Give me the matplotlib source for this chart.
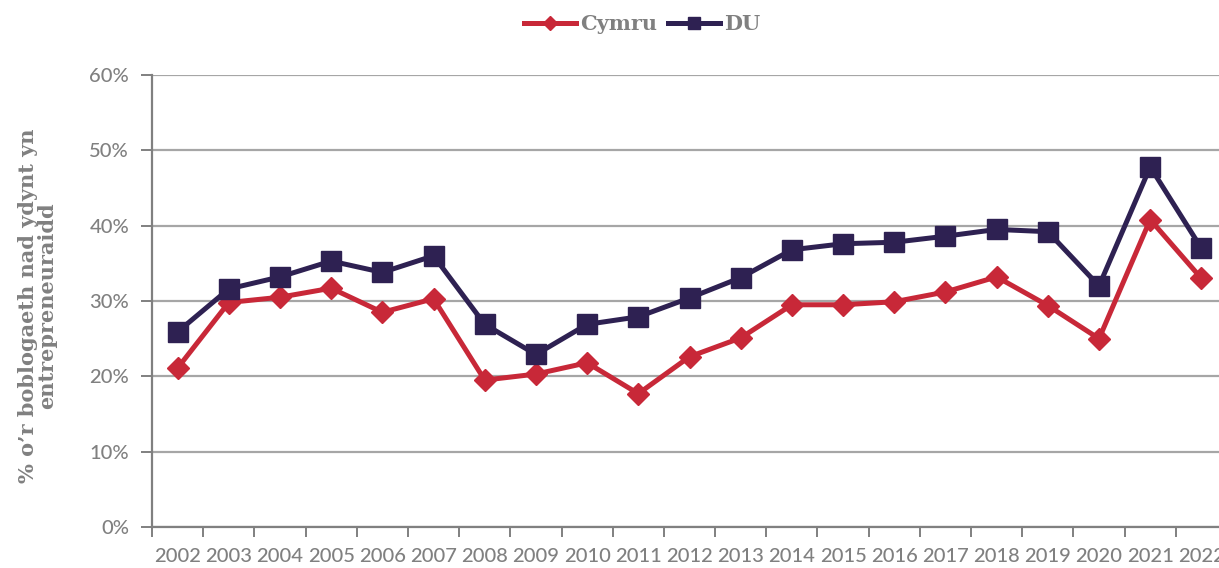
import numpy as np
import matplotlib.pyplot as plt
from matplotlib.lines import Line2D

# data (% of population)
years = ['2002', '2003', '2004', '2005', '2006', '2007', '2008', '2009', '2010', '2011',
         '2012', '2013', '2014', '2015', '2016', '2017', '2018', '2019', '2020', '2021', '2022']
cymru = [21.1, 29.8, 30.5, 31.7, 28.5, 30.3, 19.5, 20.3, 21.8, 17.7,
         22.6, 25.1, 29.5, 29.5, 29.9, 31.2, 33.2, 29.4, 25.0, 40.8, 33.0]
du = [25.9, 31.6, 33.2, 35.3, 33.8, 36.0, 26.9, 22.9, 26.9, 27.9,
      30.4, 33.1, 36.8, 37.6, 37.8, 38.6, 39.5, 39.2, 32.0, 47.8, 37.0]
y_ticks = [0, 10, 20, 30, 40, 50, 60]

red = '#C82838'
navy = '#2E2152'
grey = '#808080'

fig = plt.figure(figsize=(12.19, 5.68), dpi=100)
# axis runs past the right edge, as in the cropped original
ax = fig.add_axes([152 / 1219, 41 / 568, 1075 / 1219, 452 / 568])

x = np.arange(len(years))
ax.plot(x, cymru, color=red, lw=3.6, marker='D', ms=11, zorder=3)
ax.plot(x, du, color=navy, lw=3.6, marker='s', ms=14, zorder=3)

ax.set_xlim(-0.5, len(years) - 0.5)
ax.set_ylim(0, 60)
ax.set_yticks(y_ticks)
ax.set_yticklabels([f'{v}%' for v in y_ticks])
ax.yaxis.grid(True, color='#A6A6A6', lw=1.6)
ax.set_axisbelow(True)

ax.set_xticks(x)
ax.set_xticklabels(years)
ax.set_xticks(np.arange(-0.5, len(years), 1), minor=True)
ax.tick_params(axis='x', which='major', length=0, pad=15, labelsize=14.5, labelcolor=grey)
ax.tick_params(axis='x', which='minor', length=7, width=1.4, color=grey)
ax.tick_params(axis='y', length=8, width=1.4, color=grey, pad=8.5, labelsize=14.5, labelcolor=grey)
for t in ax.get_xticklabels() + ax.get_yticklabels():
    t.set_family('Lato')
    t.set_fontweight('medium')

for s in ['top', 'right']:
    ax.spines[s].set_visible(False)
for s in ['left', 'bottom']:
    ax.spines[s].set_color(grey)
    ax.spines[s].set_linewidth(1.6)

ax.set_ylabel("% o’r boblogaeth nad ydynt yn\nentrepreneuraidd", fontsize=15,
              fontweight='bold', family='DejaVu Serif', color=grey,
              linespacing=0.95)
ax.yaxis.set_label_coords(-0.088, 0.49)

handles = [Line2D([], [], color=red, lw=3.6, marker='D', ms=7),
           Line2D([], [], color=navy, lw=3.6, marker='s', ms=9)]
leg = fig.legend(handles, ['Cymru', 'DU'], loc='center', bbox_to_anchor=(0.527, 0.958),
                 ncol=2, frameon=False, handlelength=2.5, columnspacing=0.5,
                 handletextpad=0.2, prop={'family': 'DejaVu Serif', 'weight': 'bold', 'size': 15})
for t in leg.get_texts():
    t.set_color(grey)

fig.savefig('out.png', dpi=100)
